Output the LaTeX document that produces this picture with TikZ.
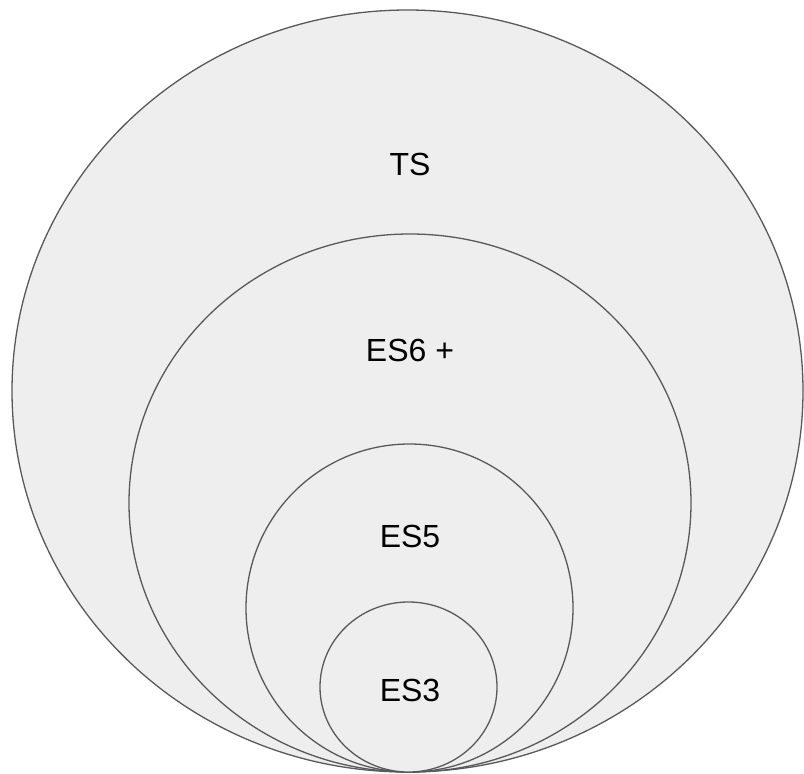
\documentclass[tikz,border=0pt]{standalone}
\usepackage{fontspec}
\setmainfont{Liberation Sans}
\definecolor{ringfill}{HTML}{EEEEEE}
\definecolor{ringline}{HTML}{595959}
\begin{document}
\begin{tikzpicture}[x=1pt,y=-1pt,
  ring/.style={fill=ringfill,draw=ringline,line width=1.3pt},
  tag/.style={font=\fontsize{32}{36}\selectfont,text=black,inner sep=0pt}]
\useasboundingbox (0,0) rectangle (804,774);
% nested rings, all touching at the bottom
\draw[ring] (407.5,391) ellipse [x radius=395.5, y radius=381];
\draw[ring] (410,503) ellipse [x radius=281, y radius=269];
\draw[ring] (409.5,608) ellipse [x radius=163.5, y radius=164];
\draw[ring] (408.5,687) ellipse [x radius=88.5, y radius=85];
% labels
\node[tag] (ts) at (410,164) {TS};
\node[tag] (es6) at (410,350) {ES6 +};
\node[tag] (es5) at (410,536) {ES5};
\node[tag] (es3) at (410,690) {ES3};
\end{tikzpicture}
\end{document}
